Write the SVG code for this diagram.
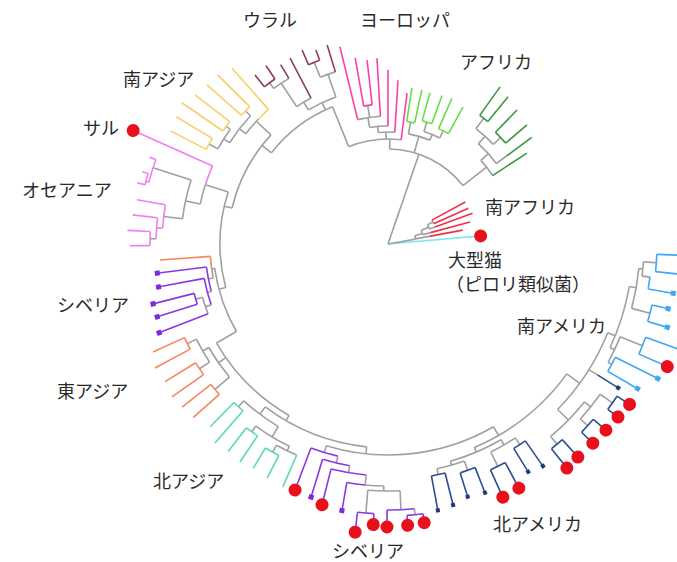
<svg xmlns="http://www.w3.org/2000/svg" width="677" height="562" viewBox="0 0 677 562">
<style>
#tree line, #tree circle.a{fill:none;stroke-width:1.6}
.g{stroke:#a0a0a0}.pk{stroke:#ff3da8}.m{stroke:#8c3f52}.y{stroke:#f6d06a}.v{stroke:#f17ef1}
.o{stroke:#f5865f}.p{stroke:#8a37e6}.t{stroke:#5ed8b6}.nb{stroke:#2c4f8e}.lb{stroke:#3ea8f2}
.lg{stroke:#66dd4a}.dg{stroke:#3e9640}.sr{stroke:#f0304d}.cy{stroke:#80e8f0}
.rd{fill:#e8101a}.pd{fill:#7b2be0}.nd{fill:#1f3a7a}.ld{fill:#3ea8f2}
text{font-family:"Noto Sans CJK JP","Noto Sans",sans-serif;font-size:18px;fill:#2a2a2a}
</style>
<rect width="677" height="562" fill="#fff"/>
<g id="tree" transform="translate(388,244)">
<g id="connectors">
<line class="g" x2="95" transform="rotate(289)"/>
<circle class="a g" r="95" pathLength="360" stroke-dasharray="51 360" transform="rotate(271)"/>
<line class="g" x1="95" x2="105" transform="rotate(271)"/>
<circle class="a g" r="105" pathLength="360" stroke-dasharray="29.2 360" transform="rotate(248)"/>
<line class="g" x1="105" x2="148" transform="rotate(248)"/>
<circle class="a g" r="148" pathLength="360" stroke-dasharray="30 360" transform="rotate(218)"/>
<line class="g" x1="148" x2="160" transform="rotate(218)"/>
<circle class="a g" r="160" pathLength="360" stroke-dasharray="30 360" transform="rotate(193)"/>
<line class="g" x1="160" x2="168" transform="rotate(193)"/>
<circle class="a g" r="168" pathLength="360" stroke-dasharray="33 360" transform="rotate(165)"/>
<line class="g" x1="168" x2="175" transform="rotate(165)"/>
<circle class="a g" r="175" pathLength="360" stroke-dasharray="22 360" transform="rotate(150)"/>
<line class="g" x1="175" x2="198" transform="rotate(150)"/>
<circle class="a g" r="198" pathLength="360" stroke-dasharray="30 360" transform="rotate(120)"/>
<line class="g" x1="198" x2="204" transform="rotate(120)"/>
<circle class="a g" r="204" pathLength="360" stroke-dasharray="31 360" transform="rotate(96)"/>
<line class="g" x1="204" x2="211" transform="rotate(96)"/>
<circle class="a g" r="211" pathLength="360" stroke-dasharray="47 360" transform="rotate(60)"/>
<line class="g" x1="211" x2="221" transform="rotate(60)"/>
<circle class="a g" r="221" pathLength="360" stroke-dasharray="31 360" transform="rotate(36)"/>
<line class="g" x1="221" x2="237" transform="rotate(36)"/>
<circle class="a g" r="237" pathLength="360" stroke-dasharray="22.3 360" transform="rotate(22)"/>
<line class="g" x1="237" x2="245" transform="rotate(22)"/>
<circle class="a g" r="245" pathLength="360" stroke-dasharray="15 360" transform="rotate(10)"/>
</g>
<g id="bigcat">
<line class="cy" x2="93" transform="rotate(355)"/>
<circle class="rd" cx="93" r="6.5" transform="rotate(355)"/>
</g>
<g id="south-africa">
<line class="g" x2="28" transform="rotate(350)"/>
<circle class="a g" r="28" pathLength="360" stroke-dasharray="6.5 360" transform="rotate(343)"/>
<line class="g" x1="28" x2="42" transform="rotate(349.5)"/><line class="sr" x1="42" x2="76" transform="rotate(349.5)"/>
<line class="g" x1="28" x2="36" transform="rotate(343)"/>
<circle class="a g" r="36" pathLength="360" stroke-dasharray="7.5 360" transform="rotate(337.5)"/>
<line class="g" x1="36" x2="44" transform="rotate(345)"/><line class="sr" x1="44" x2="85" transform="rotate(345)"/>
<line class="g" x1="36" x2="44" transform="rotate(337.5)"/>
<circle class="a g" r="44" pathLength="360" stroke-dasharray="6 360" transform="rotate(334)"/>
<line class="g" x1="44" x2="50" transform="rotate(340)"/><line class="sr" x1="50" x2="90" transform="rotate(340)"/>
<line class="g" x1="44" x2="50" transform="rotate(334)"/>
<circle class="a g" r="50" pathLength="360" stroke-dasharray="4.5 360" transform="rotate(331.5)"/>
<line class="sr" x1="50" x2="88" transform="rotate(336)"/><line class="sr" x1="50" x2="88" transform="rotate(331.5)"/>
</g>
<g id="africa">
<line class="g" x1="95" x2="112" transform="rotate(286)"/>
<circle class="a g" r="112" pathLength="360" stroke-dasharray="11.5 360" transform="rotate(280.5)"/>
<line class="g" x1="112" x2="124" transform="rotate(280.5)"/>
<circle class="a lg" r="124" pathLength="360" stroke-dasharray="3.7 360" transform="rotate(278.7)"/>
<line class="lg" x1="124" x2="158" transform="rotate(278.7)"/><line class="lg" x1="124" x2="158" transform="rotate(282.4)"/>
<line class="g" x1="112" x2="118" transform="rotate(292)"/>
<circle class="a g" r="118" pathLength="360" stroke-dasharray="8.3 360" transform="rotate(287.7)"/>
<line class="g" x1="118" x2="128" transform="rotate(287.7)"/>
<circle class="a lg" r="128" pathLength="360" stroke-dasharray="4.5 360" transform="rotate(285.5)"/>
<line class="lg" x1="128" x2="157" transform="rotate(285.5)"/><line class="lg" x1="128" x2="158" transform="rotate(290)"/>
<line class="g" x1="118" x2="126" transform="rotate(296)"/>
<circle class="a lg" r="126" pathLength="360" stroke-dasharray="5 360" transform="rotate(293.7)"/>
<line class="lg" x1="126" x2="159" transform="rotate(293.7)"/><line class="lg" x1="126" x2="156" transform="rotate(298.7)"/>
<line class="g" x1="95" x2="125" transform="rotate(322)"/>
<circle class="a g" r="125" pathLength="360" stroke-dasharray="8.8 360" transform="rotate(318)"/>
<line class="dg" x1="125" x2="166" transform="rotate(326.8)"/>
<line class="g" x1="125" x2="135" transform="rotate(318)"/>
<circle class="a g" r="135" pathLength="360" stroke-dasharray="11.4 360" transform="rotate(312)"/>
<line class="g" x1="135" x2="148" transform="rotate(323.4)"/><line class="dg" x1="148" x2="179" transform="rotate(323.4)"/>
<line class="g" x1="135" x2="145" transform="rotate(312)"/>
<circle class="a g" r="145" pathLength="360" stroke-dasharray="9.3 360" transform="rotate(307.3)"/>
<line class="g" x1="145" x2="158" transform="rotate(307.3)"/>
<circle class="a dg" r="158" pathLength="360" stroke-dasharray="3.7 360" transform="rotate(305.5)"/>
<line class="dg" x1="158" x2="193" transform="rotate(305.5)"/><line class="dg" x1="158" x2="190" transform="rotate(309.2)"/>
<line class="g" x1="145" x2="155" transform="rotate(316.6)"/>
<circle class="a dg" r="155" pathLength="360" stroke-dasharray="5.5 360" transform="rotate(313.9)"/>
<line class="dg" x1="155" x2="186" transform="rotate(313.9)"/><line class="dg" x1="155" x2="183" transform="rotate(319.4)"/>
</g>
<g id="europe">
<line class="pk" x1="105" x2="152" transform="rotate(277.2)"/>
<line class="g" x1="105" x2="112" transform="rotate(269)"/>
<circle class="a g" r="112" pathLength="360" stroke-dasharray="8.5 360" transform="rotate(265)"/>
<line class="pk" x1="112" x2="164" transform="rotate(273.5)"/>
<line class="g" x1="112" x2="118" transform="rotate(265)"/>
<circle class="a g" r="118" pathLength="360" stroke-dasharray="9 360" transform="rotate(261)"/>
<line class="pk" x1="118" x2="174" transform="rotate(270)"/>
<line class="g" x1="118" x2="128" transform="rotate(261)"/>
<circle class="a g" r="128" pathLength="360" stroke-dasharray="10.3 360" transform="rotate(256.3)"/>
<line class="pk" x1="128" x2="186" transform="rotate(266.6)"/><line class="pk" x1="128" x2="203" transform="rotate(256.3)"/>
<line class="g" x1="128" x2="140" transform="rotate(261.7)"/>
<circle class="a pk" r="140" pathLength="360" stroke-dasharray="3.5 360" transform="rotate(260)"/>
<line class="pk" x1="140" x2="189" transform="rotate(260)"/><line class="pk" x1="140" x2="185" transform="rotate(263.5)"/>
</g>
<g id="ural">
<line class="g" x1="148" x2="156" transform="rotate(245)"/>
<circle class="a g" r="156" pathLength="360" stroke-dasharray="11.2 360" transform="rotate(239.3)"/>
<line class="g" x1="156" x2="165" transform="rotate(239.3)"/>
<circle class="a g" r="165" pathLength="360" stroke-dasharray="5.8 360" transform="rotate(236.4)"/>
<line class="m" x1="165" x2="210" transform="rotate(242.2)"/>
<line class="g" x1="165" x2="193" transform="rotate(236.4)"/>
<circle class="a g" r="193" pathLength="360" stroke-dasharray="5.4 360" transform="rotate(233.7)"/>
<line class="m" x1="193" x2="209" transform="rotate(239.1)"/>
<line class="g" x1="193" x2="200" transform="rotate(233.7)"/>
<circle class="a m" r="200" pathLength="360" stroke-dasharray="3.8 360" transform="rotate(231.8)"/>
<line class="m" x1="200" x2="215" transform="rotate(231.8)"/><line class="m" x1="200" x2="216" transform="rotate(235.6)"/>
<line class="g" x1="156" x2="180" transform="rotate(250.5)"/>
<circle class="a g" r="180" pathLength="360" stroke-dasharray="5.1 360" transform="rotate(247.9)"/>
<line class="m" x1="180" x2="208" transform="rotate(253)"/>
<line class="g" x1="180" x2="196" transform="rotate(247.9)"/>
<circle class="a m" r="196" pathLength="360" stroke-dasharray="3.5 360" transform="rotate(246.1)"/>
<line class="m" x1="196" x2="212" transform="rotate(246.1)"/><line class="m" x1="196" x2="207" transform="rotate(249.6)"/>
</g>
<g id="south-asia">
<line class="g" x1="160" x2="180" transform="rotate(223)"/>
<circle class="a g" r="180" pathLength="360" stroke-dasharray="6.2 360" transform="rotate(217.8)"/>
<circle class="a y" r="180" pathLength="360" stroke-dasharray="4.4 360" transform="rotate(224)"/>
<line class="y" x1="180" x2="235" transform="rotate(228.4)"/>
<line class="g" x1="180" x2="188" transform="rotate(217.8)"/>
<circle class="a g" r="188" pathLength="360" stroke-dasharray="10.4 360" transform="rotate(212.6)"/>
<line class="g" x1="188" x2="195" transform="rotate(223)"/>
<circle class="a y" r="195" pathLength="360" stroke-dasharray="3.5 360" transform="rotate(221.3)"/>
<line class="y" x1="195" x2="241" transform="rotate(221.3)"/><line class="y" x1="195" x2="240" transform="rotate(224.8)"/>
<line class="g" x1="188" x2="195" transform="rotate(212.6)"/>
<circle class="a g" r="195" pathLength="360" stroke-dasharray="6.8 360" transform="rotate(209.2)"/>
<line class="g" x1="195" x2="200" transform="rotate(216)"/>
<circle class="a y" r="200" pathLength="360" stroke-dasharray="3.3 360" transform="rotate(214.4)"/>
<line class="y" x1="200" x2="250" transform="rotate(214.4)"/><line class="y" x1="200" x2="244" transform="rotate(217.7)"/>
<line class="g" x1="195" x2="205" transform="rotate(209.2)"/>
<circle class="a y" r="205" pathLength="360" stroke-dasharray="3.5 360" transform="rotate(207.5)"/>
<line class="y" x1="205" x2="245" transform="rotate(207.5)"/><line class="y" x1="205" x2="247" transform="rotate(211)"/>
</g>
<g id="monkey-oceania">
<line class="g" x1="168" x2="192" transform="rotate(198)"/>
<circle class="a g" r="192" pathLength="360" stroke-dasharray="6 360" transform="rotate(192)"/>
<circle class="a v" r="192" pathLength="360" stroke-dasharray="6 360" transform="rotate(198)"/>
<line class="v" x1="192" x2="279" transform="rotate(204)"/>
<circle class="rd" cx="279" r="6.5" transform="rotate(204)"/>
<line class="g" x1="192" x2="207" transform="rotate(192)"/>
<circle class="a g" r="207" pathLength="360" stroke-dasharray="11 360" transform="rotate(187)"/>
<line class="g" x1="207" x2="247" transform="rotate(198)"/>
<circle class="a v" r="247" pathLength="360" stroke-dasharray="5.5 360" transform="rotate(194.5)"/>
<line class="v" x1="247" x2="254" transform="rotate(200)"/>
<line class="v" x1="247" x2="250" transform="rotate(194.5)"/>
<circle class="a v" r="250" pathLength="360" stroke-dasharray="2.7 360" transform="rotate(193.7)"/>
<line class="v" x1="250" x2="256" transform="rotate(196.4)"/><line class="v" x1="250" x2="258" transform="rotate(193.7)"/>
<line class="g" x1="207" x2="226" transform="rotate(187)"/>
<circle class="a v" r="226" pathLength="360" stroke-dasharray="6 360" transform="rotate(184)"/>
<line class="v" x1="226" x2="255" transform="rotate(190)"/>
<line class="g" x1="226" x2="232" transform="rotate(184)"/>
<circle class="a v" r="232" pathLength="360" stroke-dasharray="5.2 360" transform="rotate(181.3)"/>
<line class="v" x1="232" x2="257" transform="rotate(186.5)"/>
<line class="g" x1="232" x2="238" transform="rotate(181.3)"/>
<circle class="a v" r="238" pathLength="360" stroke-dasharray="3.4 360" transform="rotate(179.6)"/>
<line class="v" x1="238" x2="261" transform="rotate(183)"/><line class="v" x1="238" x2="258" transform="rotate(179.6)"/>
</g>
<g id="siberia-left">
<line class="g" x1="175" x2="178" transform="rotate(172)"/>
<circle class="a g" r="178" pathLength="360" stroke-dasharray="3 360" transform="rotate(169)"/>
<circle class="a o" r="178" pathLength="360" stroke-dasharray="4 360" transform="rotate(172)"/>
<line class="o" x1="178" x2="228.5" transform="rotate(176)"/>
<line class="g" x1="178" x2="183" transform="rotate(169)"/>
<circle class="a p" r="183" pathLength="360" stroke-dasharray="7.8 360" transform="rotate(165)"/>
<line class="p" x1="183" x2="233" transform="rotate(172.8)"/>
<line class="g" x1="183" x2="187" transform="rotate(165)"/>
<circle class="a p" r="187" pathLength="360" stroke-dasharray="8.4 360" transform="rotate(161)"/>
<line class="p" x1="187" x2="234" transform="rotate(169.4)"/>
<line class="g" x1="187" x2="193" transform="rotate(161)"/>
<circle class="a g" r="193" pathLength="360" stroke-dasharray="5.2 360" transform="rotate(158.8)"/>
<line class="p" x1="193" x2="245.7" transform="rotate(158.8)"/>
<line class="g" x1="193" x2="200" transform="rotate(164)"/>
<circle class="a p" r="200" pathLength="360" stroke-dasharray="3.2 360" transform="rotate(162.5)"/>
<line class="p" x1="200" x2="242.5" transform="rotate(165.7)"/><line class="p" x1="200" x2="242" transform="rotate(162.5)"/>
<rect class="pd" x="230" y="-2.5" width="5" height="5" transform="rotate(172.8)"/>
<rect class="pd" x="231" y="-2.5" width="5" height="5" transform="rotate(169.4)"/>
<rect class="pd" x="240" y="-2.5" width="5" height="5" transform="rotate(165.7)"/>
<rect class="pd" x="239.5" y="-2.5" width="5" height="5" transform="rotate(162.5)"/>
<rect class="pd" x="243" y="-2.5" width="5" height="5" transform="rotate(158.8)"/>
</g>
<g id="east-asia">
<line class="g" x1="198" x2="207" transform="rotate(145)"/>
<circle class="a g" r="207" pathLength="360" stroke-dasharray="10 360" transform="rotate(140)"/>
<line class="g" x1="207" x2="214" transform="rotate(150)"/>
<circle class="a g" r="214" pathLength="360" stroke-dasharray="7.1 360" transform="rotate(146.5)"/>
<line class="g" x1="214" x2="224" transform="rotate(153.6)"/>
<circle class="a o" r="224" pathLength="360" stroke-dasharray="3.3 360" transform="rotate(152)"/>
<line class="o" x1="224" x2="258.6" transform="rotate(155.3)"/><line class="o" x1="224" x2="264" transform="rotate(152)"/>
<line class="g" x1="214" x2="226" transform="rotate(146.5)"/>
<circle class="a o" r="226" pathLength="360" stroke-dasharray="3.6 360" transform="rotate(144.7)"/>
<line class="o" x1="226" x2="262" transform="rotate(148.3)"/><line class="o" x1="226" x2="264.7" transform="rotate(144.7)"/>
<line class="g" x1="207" x2="226" transform="rotate(140)"/>
<circle class="a o" r="226" pathLength="360" stroke-dasharray="3.3 360" transform="rotate(138.3)"/>
<line class="o" x1="226" x2="262.7" transform="rotate(141.6)"/><line class="o" x1="226" x2="261" transform="rotate(138.3)"/>
</g>
<g id="north-asia">
<line class="g" x1="204" x2="213" transform="rotate(127)"/>
<circle class="a g" r="213" pathLength="360" stroke-dasharray="11.6 360" transform="rotate(121)"/>
<line class="g" x1="213" x2="221" transform="rotate(132.6)"/>
<circle class="a t" r="221" pathLength="360" stroke-dasharray="3.2 360" transform="rotate(131)"/>
<line class="t" x1="221" x2="255" transform="rotate(134.2)"/><line class="t" x1="221" x2="263.7" transform="rotate(131)"/>
<line class="g" x1="213" x2="225" transform="rotate(121)"/>
<circle class="a g" r="225" pathLength="360" stroke-dasharray="10 360" transform="rotate(116)"/>
<line class="g" x1="225" x2="232" transform="rotate(126)"/>
<circle class="a t" r="232" pathLength="360" stroke-dasharray="3.4 360" transform="rotate(124.2)"/>
<line class="t" x1="232" x2="262" transform="rotate(127.6)"/><line class="t" x1="232" x2="263.5" transform="rotate(124.2)"/>
<line class="g" x1="225" x2="230" transform="rotate(116)"/>
<circle class="a g" r="230" pathLength="360" stroke-dasharray="5.6 360" transform="rotate(113.4)"/>
<line class="g" x1="230" x2="238" transform="rotate(119)"/>
<circle class="a t" r="238" pathLength="360" stroke-dasharray="3.7 360" transform="rotate(117.3)"/>
<line class="t" x1="238" x2="261.5" transform="rotate(121)"/><line class="t" x1="238" x2="263.4" transform="rotate(117.3)"/>
<line class="t" x1="230" x2="264.7" transform="rotate(113.4)"/>
</g>
<g id="siberia-bottom">
<line class="g" x1="211" x2="218" transform="rotate(107)"/>
<circle class="a p" r="218" pathLength="360" stroke-dasharray="7.4 360" transform="rotate(103.3)"/>
<line class="p" x1="218" x2="263" transform="rotate(110.7)"/>
<line class="g" x1="218" x2="225" transform="rotate(103.3)"/>
<circle class="a p" r="225" pathLength="360" stroke-dasharray="7.1 360" transform="rotate(99.8)"/>
<line class="p" x1="225" x2="264.5" transform="rotate(106.9)"/>
<line class="g" x1="225" x2="232" transform="rotate(99.8)"/>
<circle class="a p" r="232" pathLength="360" stroke-dasharray="8.8 360" transform="rotate(95.4)"/>
<line class="p" x1="232" x2="269" transform="rotate(104.2)"/>
<line class="g" x1="232" x2="242" transform="rotate(95.4)"/>
<circle class="a p" r="242" pathLength="360" stroke-dasharray="4.4 360" transform="rotate(95.4)"/>
<circle class="a g" r="242" pathLength="360" stroke-dasharray="4.4 360" transform="rotate(91)"/>
<line class="p" x1="242" x2="270" transform="rotate(99.8)"/>
<line class="g" x1="242" x2="247" transform="rotate(91)"/>
<circle class="a g" r="247" pathLength="360" stroke-dasharray="7.5 360" transform="rotate(87.2)"/>
<line class="g" x1="247" x2="270" transform="rotate(94.7)"/>
<circle class="a p" r="270" pathLength="360" stroke-dasharray="3.5 360" transform="rotate(93)"/>
<line class="p" x1="270" x2="290" transform="rotate(96.5)"/><line class="p" x1="270" x2="281" transform="rotate(93)"/>
<line class="g" x1="247" x2="266" transform="rotate(87.2)"/>
<circle class="a p" r="266" pathLength="360" stroke-dasharray="5.9 360" transform="rotate(84.3)"/>
<line class="p" x1="266" x2="283" transform="rotate(90.2)"/>
<line class="g" x1="266" x2="272" transform="rotate(84.3)"/>
<circle class="a p" r="272" pathLength="360" stroke-dasharray="3.4 360" transform="rotate(82.6)"/>
<line class="p" x1="272" x2="282" transform="rotate(86)"/><line class="p" x1="272" x2="281" transform="rotate(82.6)"/>
<circle class="rd" cx="263" r="6.5" transform="rotate(110.7)"/>
<rect class="pd" x="262" y="-2.5" width="5" height="5" transform="rotate(106.9)"/>
<circle class="rd" cx="269" r="6.5" transform="rotate(104.2)"/>
<rect class="pd" x="268" y="-2.5" width="5" height="5" transform="rotate(99.8)"/>
<circle class="rd" cx="290" r="6.5" transform="rotate(96.5)"/>
<circle class="rd" cx="281" r="6.5" transform="rotate(93)"/>
<circle class="rd" cx="283" r="6.5" transform="rotate(90.2)"/>
<circle class="rd" cx="282" r="6.5" transform="rotate(86)"/>
<circle class="rd" cx="281" r="6.5" transform="rotate(82.6)"/>
</g>
<g id="north-america">
<line class="g" x1="221" x2="226" transform="rotate(67)"/>
<circle class="a g" r="226" pathLength="360" stroke-dasharray="14 360" transform="rotate(60)"/>
<line class="g" x1="226" x2="230" transform="rotate(74)"/>
<circle class="a g" r="230" pathLength="360" stroke-dasharray="7.1 360" transform="rotate(70.6)"/>
<line class="g" x1="230" x2="236" transform="rotate(77.7)"/>
<circle class="a nb" r="236" pathLength="360" stroke-dasharray="3.4 360" transform="rotate(76)"/>
<line class="nb" x1="236" x2="271" transform="rotate(79.4)"/><line class="nb" x1="236" x2="269" transform="rotate(76)"/>
<line class="g" x1="230" x2="240" transform="rotate(70.6)"/>
<circle class="a nb" r="240" pathLength="360" stroke-dasharray="3.8 360" transform="rotate(68.7)"/>
<line class="nb" x1="240" x2="265" transform="rotate(72.5)"/><line class="nb" x1="240" x2="267" transform="rotate(68.7)"/>
<line class="g" x1="226" x2="232" transform="rotate(60)"/>
<circle class="a g" r="232" pathLength="360" stroke-dasharray="7 360" transform="rotate(56.7)"/>
<line class="g" x1="232" x2="248" transform="rotate(63.7)"/>
<circle class="a nb" r="248" pathLength="360" stroke-dasharray="3.8 360" transform="rotate(61.8)"/>
<line class="nb" x1="248" x2="278" transform="rotate(65.6)"/><line class="nb" x1="248" x2="277" transform="rotate(61.8)"/>
<line class="g" x1="232" x2="240" transform="rotate(56.7)"/>
<circle class="a nb" r="240" pathLength="360" stroke-dasharray="3.3 360" transform="rotate(55.1)"/>
<line class="nb" x1="240" x2="267.5" transform="rotate(58.4)"/><line class="nb" x1="240" x2="270.8" transform="rotate(55.1)"/>
<line class="g" x1="237" x2="252" transform="rotate(44.3)"/>
<circle class="a g" r="252" pathLength="360" stroke-dasharray="11 360" transform="rotate(38.8)"/>
<line class="g" x1="252" x2="262" transform="rotate(49.8)"/>
<circle class="a nb" r="262" pathLength="360" stroke-dasharray="3.1 360" transform="rotate(48.3)"/>
<line class="nb" x1="262" x2="286.7" transform="rotate(51.4)"/><line class="nb" x1="262" x2="285.4" transform="rotate(48.3)"/>
<line class="g" x1="252" x2="260" transform="rotate(38.8)"/>
<circle class="a g" r="260" pathLength="360" stroke-dasharray="7 360" transform="rotate(35.3)"/>
<line class="g" x1="260" x2="270" transform="rotate(42.3)"/>
<circle class="a nb" r="270" pathLength="360" stroke-dasharray="3.7 360" transform="rotate(40.5)"/>
<line class="nb" x1="270" x2="285.7" transform="rotate(44.2)"/><line class="nb" x1="270" x2="286.6" transform="rotate(40.5)"/>
<line class="g" x1="260" x2="275" transform="rotate(35.3)"/>
<circle class="a nb" r="275" pathLength="360" stroke-dasharray="3.35 360" transform="rotate(33.6)"/>
<line class="nb" x1="275" x2="287.8" transform="rotate(36.95)"/><line class="nb" x1="275" x2="290" transform="rotate(33.6)"/>
<line class="g" x1="237" x2="247" transform="rotate(32)"/><line class="nb" x1="247" x2="271.5" transform="rotate(32)"/>
<rect class="nd" x="269" y="-2" width="4" height="4" transform="rotate(79.4)"/>
<rect class="nd" x="267" y="-2" width="4" height="4" transform="rotate(76)"/>
<rect class="nd" x="263" y="-2" width="4" height="4" transform="rotate(72.5)"/>
<rect class="nd" x="265" y="-2" width="4" height="4" transform="rotate(68.7)"/>
<rect class="nd" x="265.5" y="-2" width="4" height="4" transform="rotate(58.4)"/>
<rect class="nd" x="268.8" y="-2" width="4" height="4" transform="rotate(55.1)"/>
<rect class="nd" x="269.5" y="-2" width="4" height="4" transform="rotate(32)"/>
<circle class="rd" cx="278" r="6.5" transform="rotate(65.6)"/>
<circle class="rd" cx="277" r="6.5" transform="rotate(61.8)"/>
<circle class="rd" cx="286.7" r="6.5" transform="rotate(51.4)"/>
<circle class="rd" cx="285.4" r="6.5" transform="rotate(48.3)"/>
<circle class="rd" cx="285.7" r="6.5" transform="rotate(44.2)"/>
<circle class="rd" cx="286.6" r="6.5" transform="rotate(40.5)"/>
<circle class="rd" cx="287.8" r="6.5" transform="rotate(36.95)"/>
<circle class="rd" cx="290" r="6.5" transform="rotate(33.6)"/>
</g>
<g id="south-america">
<line class="g" x1="245" x2="250" transform="rotate(25)"/>
<circle class="a g" r="250" pathLength="360" stroke-dasharray="6.5 360" transform="rotate(21.8)"/>
<line class="g" x1="250" x2="254" transform="rotate(28.3)"/>
<circle class="a lb" r="254" pathLength="360" stroke-dasharray="3.6 360" transform="rotate(26.5)"/>
<line class="lb" x1="254" x2="301" transform="rotate(26.5)"/><line class="lb" x1="254" x2="288" transform="rotate(30.1)"/>
<line class="g" x1="250" x2="274" transform="rotate(21.8)"/>
<circle class="a lb" r="274" pathLength="360" stroke-dasharray="3.8 360" transform="rotate(19.9)"/>
<line class="lb" x1="274" x2="310" transform="rotate(19.9)"/><line class="lb" x1="274" x2="305" transform="rotate(23.7)"/>
<line class="g" x1="245" x2="252" transform="rotate(10)"/>
<circle class="a g" r="252" pathLength="360" stroke-dasharray="9.2 360" transform="rotate(5.6)"/>
<line class="g" x1="252" x2="271" transform="rotate(14.8)"/>
<circle class="a lb" r="271" pathLength="360" stroke-dasharray="3.6 360" transform="rotate(13)"/>
<line class="lb" x1="271" x2="287" transform="rotate(13)"/><line class="lb" x1="271" x2="291" transform="rotate(16.6)"/>
<line class="g" x1="252" x2="256" transform="rotate(5.6)"/>
<circle class="a g" r="256" pathLength="360" stroke-dasharray="3.2 360" transform="rotate(4)"/>
<line class="g" x1="256" x2="269" transform="rotate(4)"/>
<circle class="a lb" r="269" pathLength="360" stroke-dasharray="3.7 360" transform="rotate(2.2)"/>
<line class="lb" x1="269" x2="310" transform="rotate(2.2)"/><line class="lb" x1="269" x2="310" transform="rotate(5.9)"/>
<line class="g" x1="256" x2="264" transform="rotate(7.2)"/>
<circle class="a lb" r="264" pathLength="360" stroke-dasharray="2.6 360" transform="rotate(7.2)"/>
<line class="lb" x1="264" x2="289" transform="rotate(9.8)"/>
<rect class="ld" x="287" y="-2.5" width="5" height="5" transform="rotate(9.8)"/>
<rect class="ld" x="285" y="-2.5" width="5" height="5" transform="rotate(13)"/>
<rect class="ld" x="289" y="-2.5" width="5" height="5" transform="rotate(16.6)"/>
<rect class="ld" x="299" y="-2.5" width="5" height="5" transform="rotate(26.5)"/>
<rect class="ld" x="286" y="-2.5" width="5" height="5" transform="rotate(30.1)"/>
<circle class="rd" cx="305" r="6.5" transform="rotate(23.7)"/>
</g>
</g>
<g id="labels">
<text x="243" y="27">ウラル</text>
<text x="360" y="27">ヨーロッパ</text>
<text x="460" y="69">アフリカ</text>
<text x="123" y="86">南アジア</text>
<text x="83" y="135">サル</text>
<text x="22" y="197">オセアニア</text>
<text x="485" y="214">南アフリカ</text>
<text x="448" y="267">大型猫</text>
<text x="446" y="291">（ピロリ類似菌）</text>
<text x="517" y="333">南アメリカ</text>
<text x="57" y="312">シベリア</text>
<text x="57" y="398">東アジア</text>
<text x="153" y="488">北アジア</text>
<text x="332" y="558">シベリア</text>
<text x="493" y="531">北アメリカ</text>
</g>
</svg>
